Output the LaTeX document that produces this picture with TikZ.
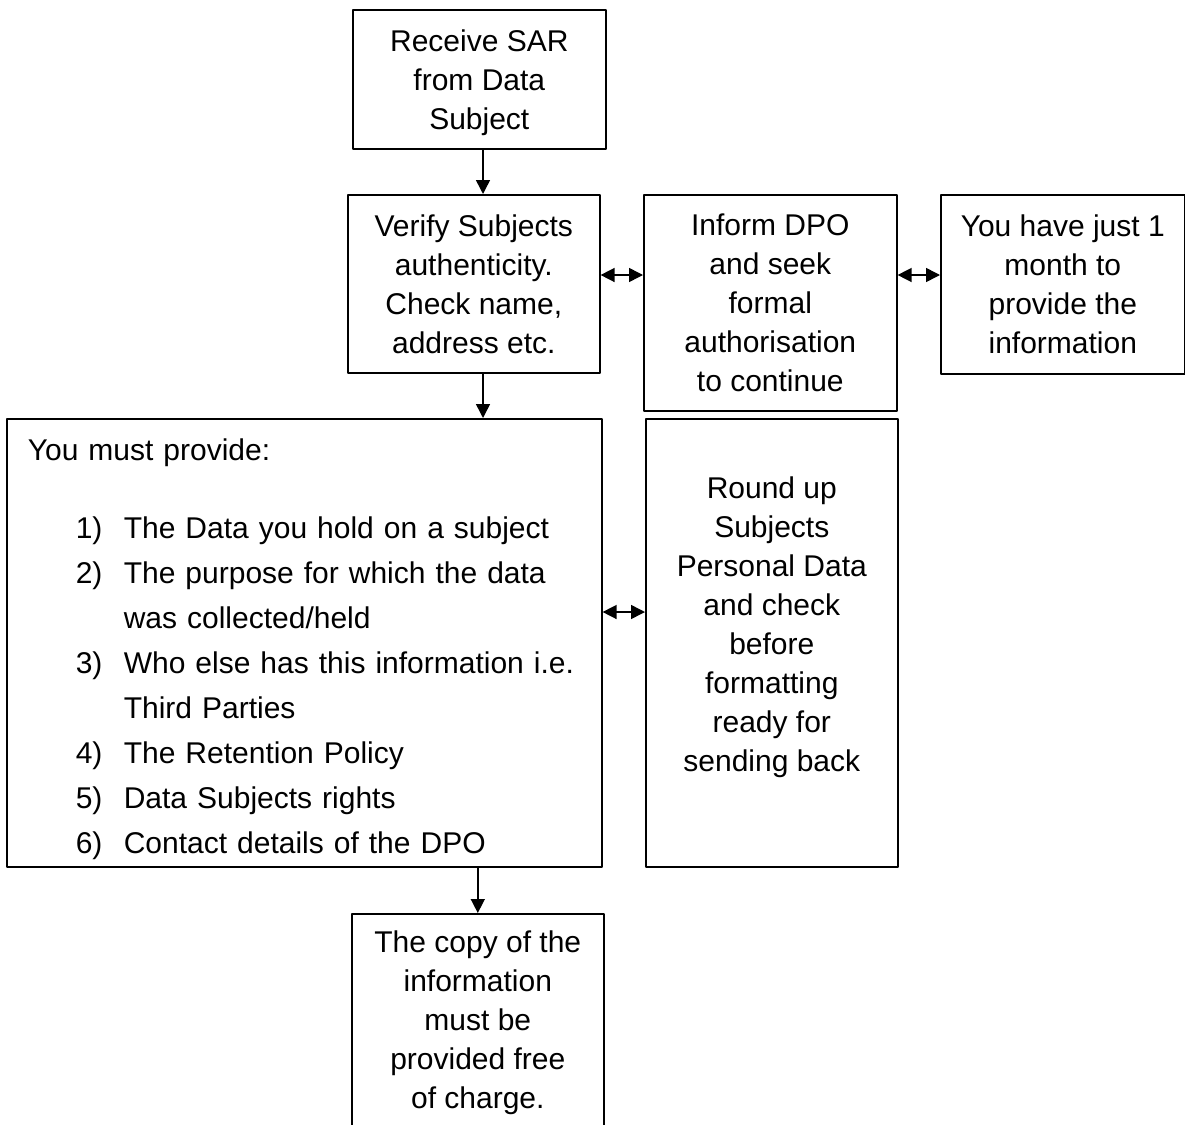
\documentclass[tikz,border=0pt]{standalone}
\usepackage{fontspec}
\setmainfont{Liberation Sans}
\usetikzlibrary{arrows.meta}
\tikzset{
  every picture/.style={line join=round, >={Triangle[length=14pt,width=14pt]}},
  flowbox/.style={draw, line width=1.6pt, align=center, inner sep=0pt, anchor=north west,
    font=\fontsize{30}{39}\selectfont},
  flowarr/.style={->, line width=1.5pt},
  twoway/.style={<->, line width=1.5pt},
}
\newcommand{\itemline}[2]{\hspace*{69pt}\makebox[48pt][l]{#1}#2}

\begin{document}
\begin{tikzpicture}[x=1pt,y=-1pt]
\path[fill=white, use as bounding box] (0,0) rectangle (1185,1124);
% boxes
\node[flowbox, minimum width=253pt, minimum height=139pt] (receive) at (352,9) {\rule{0pt}{28pt}Receive SAR\\from Data\\Subject};
\node[flowbox, minimum width=252pt, minimum height=178pt] (verify) at (347,194) {Verify Subjects\\authenticity.\\Check name,\\address etc.};
\node[flowbox, minimum width=253pt, minimum height=216pt] (inform) at (643,194) {Inform DPO\\and seek\\formal\\authorisation\\to continue};
\node[flowbox, minimum width=244pt, minimum height=179pt] (month) at (940,194) {You have just 1\\month to\\provide the\\information};
\node[flowbox, align=left, text width=595pt, minimum height=448pt] (must) at (6,418) {\rule{0pt}{34pt}\hspace*{21pt}You must provide:\\[39pt]
\itemline{1)}{The Data you hold on a subject}\\[6pt]
\itemline{2)}{The purpose for which the data}\\[6pt]
\itemline{}{was collected/held}\\[6pt]
\itemline{3)}{Who else has this information i.e.}\\[6pt]
\itemline{}{Third Parties}\\[6pt]
\itemline{4)}{The Retention Policy}\\[6pt]
\itemline{5)}{Data Subjects rights}\\[6pt]
\itemline{6)}{Contact details of the DPO}};
\node[flowbox, minimum width=252pt, minimum height=448pt] (roundup) at (645,418) {Round up\\Subjects\\Personal Data\\and check\\before\\formatting\\ready for\\sending back\\[-14pt]\strut};
\node[flowbox, minimum width=252pt, minimum height=218pt] (copy) at (351,913) {The copy of the\\information\\must be\\provided free\\of charge.};
% connectors
\coordinate (col) at (483,0);
\coordinate (rowa) at (0,275);
\coordinate (rowb) at (0,612);
\draw[flowarr] (receive.south -| col) -- (verify.north -| col);
\draw[flowarr] (verify.south -| col) -- (must.north -| col);
\draw[flowarr] (must.south -| copy.north) -- (copy.north);
\draw[twoway] (verify.east |- rowa) -- (inform.west |- rowa);
\draw[twoway] (inform.east |- rowa) -- (month.west |- rowa);
\draw[twoway] (must.east |- rowb) -- (roundup.west |- rowb);
\end{tikzpicture}
\end{document}
